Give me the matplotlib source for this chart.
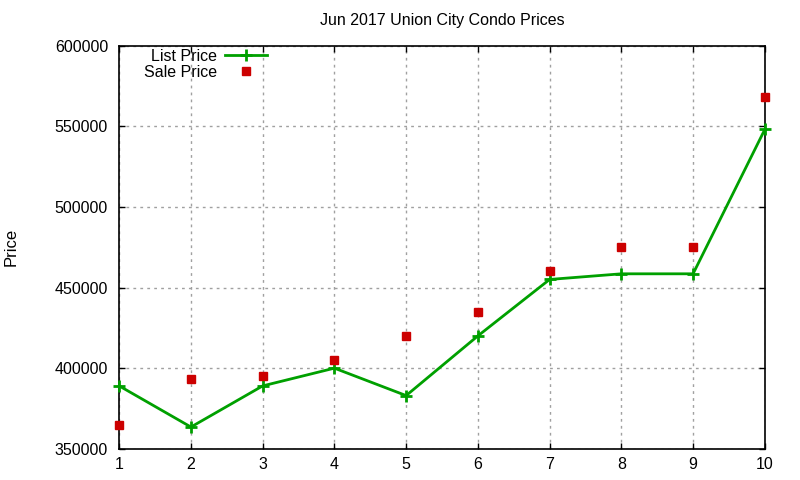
import matplotlib
matplotlib.use("Agg")
import matplotlib.pyplot as plt

# data
homes = [1, 2, 3, 4, 5, 6, 7, 8, 9, 10]
list_price = [389000, 363500, 389000, 400000, 383000, 420000, 455000, 458500, 458500, 548000]
sale_price = [365000, 393000, 395000, 405000, 420000, 435000, 460000, 475000, 475000, 568000]
y_ticks = [350000, 400000, 450000, 500000, 550000, 600000]

plt.rcParams['font.family'] = ['Liberation Sans', 'DejaVu Sans']

fig = plt.figure(figsize=(8, 4.8), dpi=100)
ax = fig.add_axes([0.149, 0.065, 0.807, 0.84])

ax.plot(homes, list_price, color='#00a000', lw=2, marker='+', ms=9, mew=2,
        label='List Price', clip_on=False, zorder=3)
ax.plot(homes, sale_price, color='#cc0000', lw=0, marker='s', ms=6,
        label='Sale Price', clip_on=False, zorder=4)

ax.set_xlim(1, 10)
ax.set_ylim(350000, 600000)
ax.set_xticks(homes)
ax.set_yticks(y_ticks)
ax.grid(True, color='#a0a0a0', ls=(0, (2, 3)), lw=1)
ax.tick_params(direction='in', top=True, right=True, labelsize=11.5, length=4, width=1)
ax.tick_params(axis='x', pad=6)
ax.tick_params(axis='y', pad=8)
for s in ax.spines.values():
    s.set_linewidth(1.2)

ax.set_title('Jun 2017 Union City Condo Prices', fontsize=11.5, pad=15)
fig.text(0.004, 0.485, 'Price', rotation=90, fontsize=12, va='center', ha='left')

ax.legend(loc='upper left', frameon=False, markerfirst=False, fontsize=11.5,
          handlelength=2.6, handletextpad=0.5, borderaxespad=0.1,
          labelspacing=0.05, bbox_to_anchor=(0.026, 1.012))

fig.savefig('out.png', dpi=100)
